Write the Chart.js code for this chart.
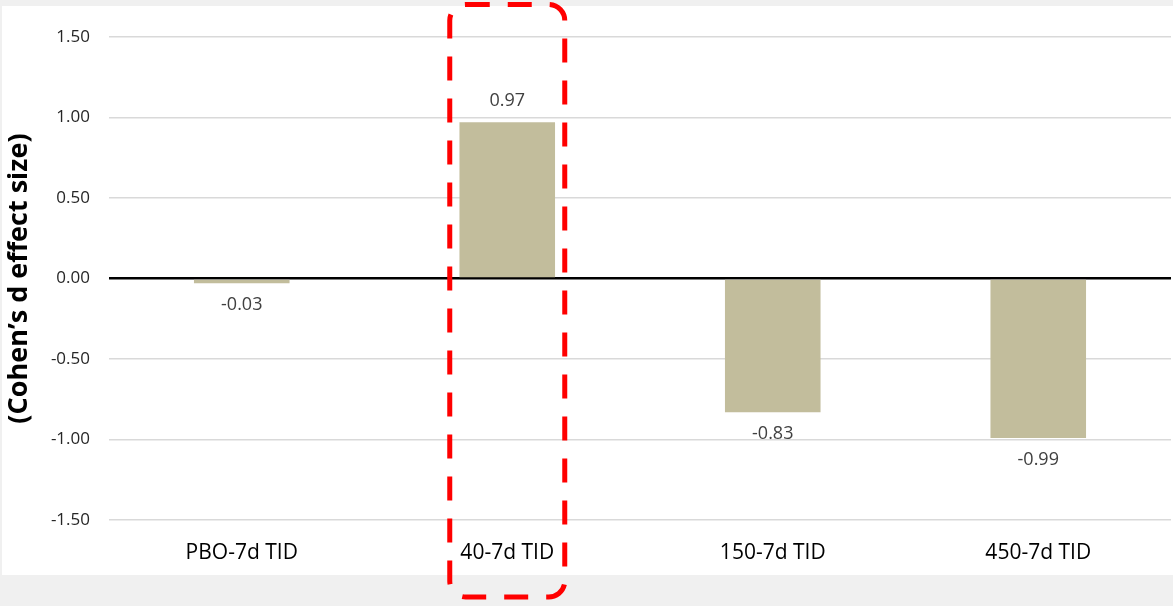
<!DOCTYPE html>
<html>
<head>
<meta charset="utf-8">
<script src="https://cdn.jsdelivr.net/npm/chart.js@4/dist/chart.umd.min.js"></script>
<style>
  html, body { margin: 0; padding: 0; background: #f0f0f0; }
  #wrap { position: relative; width: 1173px; height: 606px; }
</style>
</head>
<body>
<div id="wrap"><canvas id="chart"></canvas></div>
<script>
// Groups and their Cohen's d effect sizes
const categories = ['PBO-7d TID', '40-7d TID', '150-7d TID', '450-7d TID'];
const effectSizes = [-0.03, 0.97, -0.83, -0.99];
const yTickValues = [-1.5, -1.0, -0.5, 0.0, 0.5, 1.0, 1.5];
const highlightIndex = 1;
const axisTitle = '(Cohen\u2019s d effect size)';

const BAR_COLOR = '#c2bd9c';
const FONT = '"Open Sans", "Noto Sans", sans-serif';

// White panel behind the chart
const panelPlugin = {
  id: 'panel',
  beforeDraw(chart) {
    const ctx = chart.ctx;
    ctx.save();
    ctx.fillStyle = '#ffffff';
    ctx.fillRect(2, 6, chart.width - 2, 569);
    ctx.restore();
  }
};

// Value labels above positive bars and below negative ones
const valueLabels = {
  id: 'valueLabels',
  afterDatasetsDraw(chart) {
    const ctx = chart.ctx;
    const meta = chart.getDatasetMeta(0);
    ctx.save();
    ctx.font = '18px ' + FONT;
    ctx.fillStyle = '#404040';
    ctx.textAlign = 'center';
    ctx.textBaseline = 'middle';
    meta.data.forEach((bar, i) => {
      const v = effectSizes[i];
      const y = v >= 0 ? bar.y - 21 : bar.y + 22;
      ctx.fillText(v.toFixed(2), bar.x, y);
    });
    ctx.restore();
  }
};

// Dashed rounded frame around the highlighted group
const highlightFrame = {
  id: 'highlightFrame',
  afterDraw(chart) {
    const ctx = chart.ctx;
    const cx = chart.scales.x.getPixelForValue(highlightIndex);
    const left = cx - 57.5, right = cx + 57.5;
    const top = 4.5, bottom = 597;
    const r = 16;
    ctx.save();
    ctx.strokeStyle = '#ff0000';
    ctx.lineWidth = 5;
    ctx.setLineDash([24, 18]);
    ctx.beginPath();
    ctx.moveTo(left + r, top);
    ctx.lineTo(right - r, top);
    ctx.arcTo(right, top, right, top + r, r);
    ctx.lineTo(right, bottom - r);
    ctx.arcTo(right, bottom, right - r, bottom, r);
    ctx.lineTo(left + r, bottom);
    ctx.arcTo(left, bottom, left, bottom - r, r);
    ctx.lineTo(left, top + r);
    ctx.arcTo(left, top, left + r, top, r);
    ctx.closePath();
    ctx.stroke();
    ctx.restore();
  }
};

new Chart(document.getElementById('chart'), {
  type: 'bar',
  data: {
    labels: categories,
    datasets: [{
      data: effectSizes,
      backgroundColor: BAR_COLOR,
      borderWidth: 0,
      categoryPercentage: 1.0,
      barPercentage: 0.36
    }]
  },
  options: {
    responsive: true,
    maintainAspectRatio: false,
    devicePixelRatio: 1,
    animation: false,
    layout: { padding: { top: 37, right: 2, bottom: 26, left: 0 } },
    plugins: {
      legend: { display: false },
      tooltip: { enabled: false }
    },
    scales: {
      x: {
        grid: { display: false, drawTicks: false },
        border: { display: false },
        ticks: {
          color: '#000000',
          font: { family: FONT, size: 21 },
          padding: 20
        },
        afterFit(scale) { scale.height = 60; }
      },
      y: {
        min: -1.5,
        max: 1.5,
        afterBuildTicks(scale) {
          scale.ticks = yTickValues.map(v => ({ value: v }));
        },
        grid: {
          drawTicks: false,
          color: ctx => ctx.tick && ctx.tick.value === 0 ? '#000000' : '#d9d9d9',
          lineWidth: ctx => ctx.tick && ctx.tick.value === 0 ? 2.5 : 1.5
        },
        border: { display: false },
        ticks: {
          color: '#262626',
          font: { family: FONT, size: 17 },
          padding: 19,
          callback: v => Number(v).toFixed(2)
        },
        title: {
          display: true,
          text: axisTitle,
          color: '#000000',
          font: { family: FONT, size: 27, weight: 'bold' },
          padding: { top: 3, bottom: 0 }
        },
        afterFit(scale) { scale.width = 109; }
      }
    }
  },
  plugins: [panelPlugin, valueLabels, highlightFrame]
});
</script>
</body>
</html>
